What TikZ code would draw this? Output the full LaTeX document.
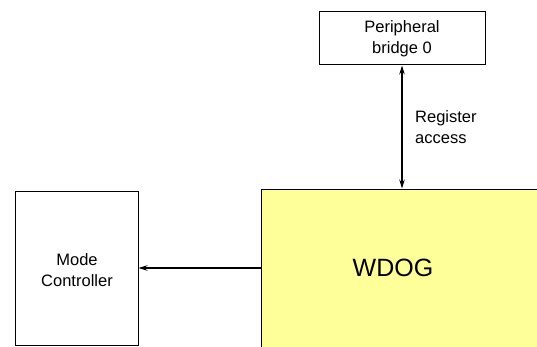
\documentclass[tikz,border=0pt]{standalone}
\usepackage{fontspec}
\setmainfont{Liberation Sans}
\usetikzlibrary{arrows.meta}
\definecolor{wdogyellow}{RGB}{255,255,153}
\begin{document}
\begin{tikzpicture}[x=1pt,y=1pt,
  blk/.style={draw=black,line width=1pt,inner sep=0pt},
  lbl/.style={font=\fontsize{16.5}{21}\selectfont,align=center,inner sep=0pt},
  tip/.style={Stealth[length=9pt,width=5.5pt]},
  conn/.style={line width=1.1pt,-{Stealth[length=9pt,width=5.5pt]}}]
\useasboundingbox (0,0) rectangle (537,346);
\clip (0,0) rectangle (537,346);
% Peripheral bridge
\node[blk,minimum width=166pt,minimum height=53pt] (pb) at (402,307.5) {};
\node[lbl] (pbt) at (pb.center) {Peripheral\\bridge 0};
% Mode controller
\node[blk,minimum width=123pt,minimum height=154pt] (mc) at (76.5,78) {};
\node[lbl] (mct) at (77,76) {Mode\\Controller};
% WDOG
\node[blk,fill=wdogyellow,minimum width=290pt,minimum height=170pt] (wd) at (406,72) {};
\node[font=\fontsize{25}{30}\selectfont,inner sep=0pt] (wdt) at (393,78) {WDOG};
% connectors
\coordinate (a1) at (402,157);
\draw[line width=1.1pt,{Stealth[length=9pt,width=5.5pt]}-{Stealth[length=9pt,width=5.5pt]}] (pb.south -| a1) -- (wd.north -| a1);
\node[lbl,align=left,anchor=west] (ra) at (415,218.5) {Register\\access};
\coordinate (a2) at (200,78);
\draw[conn] (wd.west |- a2) -- (mc.east |- a2);
\end{tikzpicture}
\end{document}
